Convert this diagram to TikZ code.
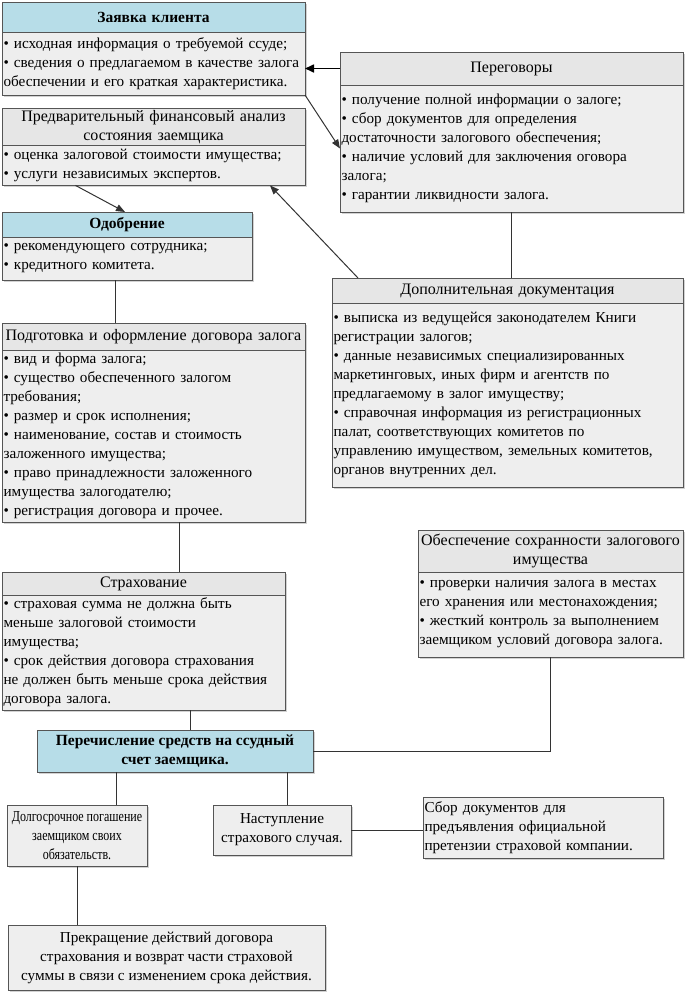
\documentclass[tikz,border=0pt]{standalone}
\usepackage{fontspec}
\setmainfont{Liberation Serif}
\usetikzlibrary{arrows.meta, positioning, shadows}

\definecolor{hdrblue}{RGB}{183,221,232}
\definecolor{boxgray}{RGB}{238,238,238}
\definecolor{hdrgray}{RGB}{230,230,230}
\definecolor{edge}{RGB}{85,85,85}

\begin{document}
\begin{tikzpicture}[
  x=1pt, y=-1pt,
  base/.style={rectangle, draw=edge, line width=0.7pt, fill=boxgray, outer sep=0pt,
               inner xsep=1.5pt, inner ysep=2pt,
               font=\fontsize{15.2}{19}\selectfont,
               drop shadow={shadow xshift=2pt, shadow yshift=-2pt, fill=gray!70}},
  head/.style={base, fill=hdrgray, align=center, font=\fontsize{16}{19}\selectfont},
  keyhead/.style={base, fill=hdrblue, align=center, font=\fontsize{15.5}{19}\selectfont\bfseries},
  body/.style={base, align=left},
  plain/.style={base, align=center},
  bigarrow/.style={-{Triangle[length=9pt, width=8pt]}, line width=1.6pt, draw=black},
  arr/.style={-{Triangle[length=9pt, width=7pt]}, line width=1pt, draw=black!80},
  link/.style={line width=1pt, draw=black!80}
]
  \useasboundingbox (0,0) rectangle (686,994);

  \node[keyhead, anchor=north west, text width=300pt, minimum height=30pt] (zayavkaH) at (2,2) {Заявка клиента};
  \node[body, text width=300pt, minimum height=63pt, below=0pt of zayavkaH] (zayavka)
    {• исходная информация о требуемой ссуде;\\
     • сведения о предлагаемом в качестве залога\\
     обеспечении и его краткая характеристика.};

  \node[head, anchor=north west, text width=340pt, minimum height=33pt] (peregovoryH) at (340,52) {Переговоры};
  \node[body, text width=340pt, minimum height=127pt, below=0pt of peregovoryH] (peregovory)
    {• получение полной информации о залоге;\\
     • сбор документов для определения\\
     достаточности залогового обеспечения;\\
     • наличие условий для заключения оговора\\
     залога;\\
     • гарантии ликвидности залога.};

  \node[head, anchor=north west, text width=300pt, minimum height=37pt] (analizH) at (2,108)
    {Предварительный финансовый анализ\\состояния заемщика};
  \node[body, text width=300pt, minimum height=40pt, below=0pt of analizH] (analiz)
    {• оценка залоговой стоимости имущества;\\
     • услуги независимых экспертов.};

  \node[keyhead, anchor=north west, text width=247pt, minimum height=25pt] (odobrenieH) at (2,212) {Одобрение};
  \node[body, text width=247pt, minimum height=43pt, below=0pt of odobrenieH] (odobrenie)
    {• рекомендующего сотрудника;\\
     • кредитного комитета.};

  \node[head, anchor=north west, text width=348pt, minimum height=25pt] (dopdocH) at (332,278) {Дополнительная документация};
  \node[body, text width=348pt, minimum height=184pt, below=0pt of dopdocH] (dopdoc)
    {• выписка из ведущейся законодателем Книги\\
     регистрации залогов;\\
     • данные независимых специализированных\\
     маркетинговых, иных фирм и агентств по\\
     предлагаемому в залог имуществу;\\
     • справочная информация из регистрационных\\
     палат, соответствующих комитетов по\\
     управлению имуществом, земельных комитетов,\\
     органов внутренних дел.};

  \node[head, anchor=north west, text width=300pt, minimum height=27pt] (podgotovkaH) at (2,323)
    {Подготовка и оформление договора залога};
  \node[body, text width=300pt, minimum height=172pt, below=0pt of podgotovkaH] (podgotovka)
    {• вид и форма залога;\\
     • существо обеспеченного залогом\\
     требования;\\
     • размер и срок исполнения;\\
     • наименование, состав и стоимость\\
     заложенного имущества;\\
     • право принадлежности заложенного\\
     имущества залогодателю;\\
     • регистрация договора и прочее.};

  \node[head, anchor=north west, text width=262pt, minimum height=42pt] (sokhranH) at (418,530)
    {Обеспечение сохранности залогового\\имущества};
  \node[body, text width=262pt, minimum height=85pt, below=0pt of sokhranH] (sokhran)
    {• проверки наличия залога в местах\\
     его хранения или местонахождения;\\
     • жесткий контроль за выполнением\\
     заемщиком условий договора залога.};

  \node[head, anchor=north west, text width=280pt, minimum height=23pt] (strakhH) at (2,572) {Страхование};
  \node[body, text width=280pt, minimum height=115pt, below=0pt of strakhH] (strakh)
    {• страховая сумма не должна быть\\
     меньше залоговой стоимости\\
     имущества;\\
     • срок действия договора страхования\\
     не должен быть меньше срока действия\\
     договора залога.};

  \node[keyhead, anchor=north west, minimum width=276pt, minimum height=42pt] (perechisl) at (37,730)
    {Перечисление средств на ссудный\\счет заемщика.};

  \node[plain, anchor=north west, minimum width=140pt, minimum height=61pt,
        font=\fontsize{15.2}{19}\selectfont\addfontfeatures{FakeStretch=0.79}] (pogashenie) at (7,805)
    {Долгосрочное погашение\\заемщиком своих\\обязательств.};
  \node[plain, anchor=north west, minimum width=138pt, minimum height=50pt] (nastuplenie) at (213,805)
    {Наступление\\страхового случая.};
  \node[body, anchor=north west, text width=237pt, minimum height=61pt] (sbor) at (423,797)
    {Сбор документов для\\предъявления официальной\\претензии страховой компании.};
  \node[plain, anchor=north west, minimum width=317pt, minimum height=65pt] (prekrash) at (8,925)
    {Прекращение действий договора\\страхования и возврат части страховой\\суммы в связи с изменением срока действия.};

  \draw[bigarrow] (peregovoryH.west) -- (zayavka.east |- peregovoryH.west);
  \draw[arr] (zayavka.south east) -- (peregovory.west);
  \draw[arr] ([xshift=-78pt]analiz.south) -- ([xshift=-2pt]odobrenieH.north);
  \draw[arr] ([xshift=26pt]dopdocH.north west) -- ([xshift=-35pt]analiz.south east);
  \draw[link] (peregovory.south) -- (peregovory.south |- dopdocH.north);
  \draw[link] ([xshift=-12pt]odobrenie.south) -- ([xshift=-12pt]odobrenie.south |- podgotovkaH.north);
  \draw[link] ([xshift=26pt]podgotovka.south) -- ([xshift=26pt]podgotovka.south |- strakhH.north);
  \draw[link] ([xshift=15pt]perechisl.north) -- ([xshift=15pt]perechisl.north |- strakh.south);
  \draw[link] (sokhran.south) |- (perechisl.east);
  \draw[link] ([xshift=39pt]pogashenie.north) -- ([xshift=39pt]pogashenie.north |- perechisl.south);
  \draw[link] ([xshift=5pt]nastuplenie.north) -- ([xshift=5pt]nastuplenie.north |- perechisl.south);
  \draw[link] (nastuplenie.east) -- (nastuplenie.east -| sbor.west);
  \draw[link] (pogashenie.south) -- (pogashenie.south |- prekrash.north);
\end{tikzpicture}
\end{document}
